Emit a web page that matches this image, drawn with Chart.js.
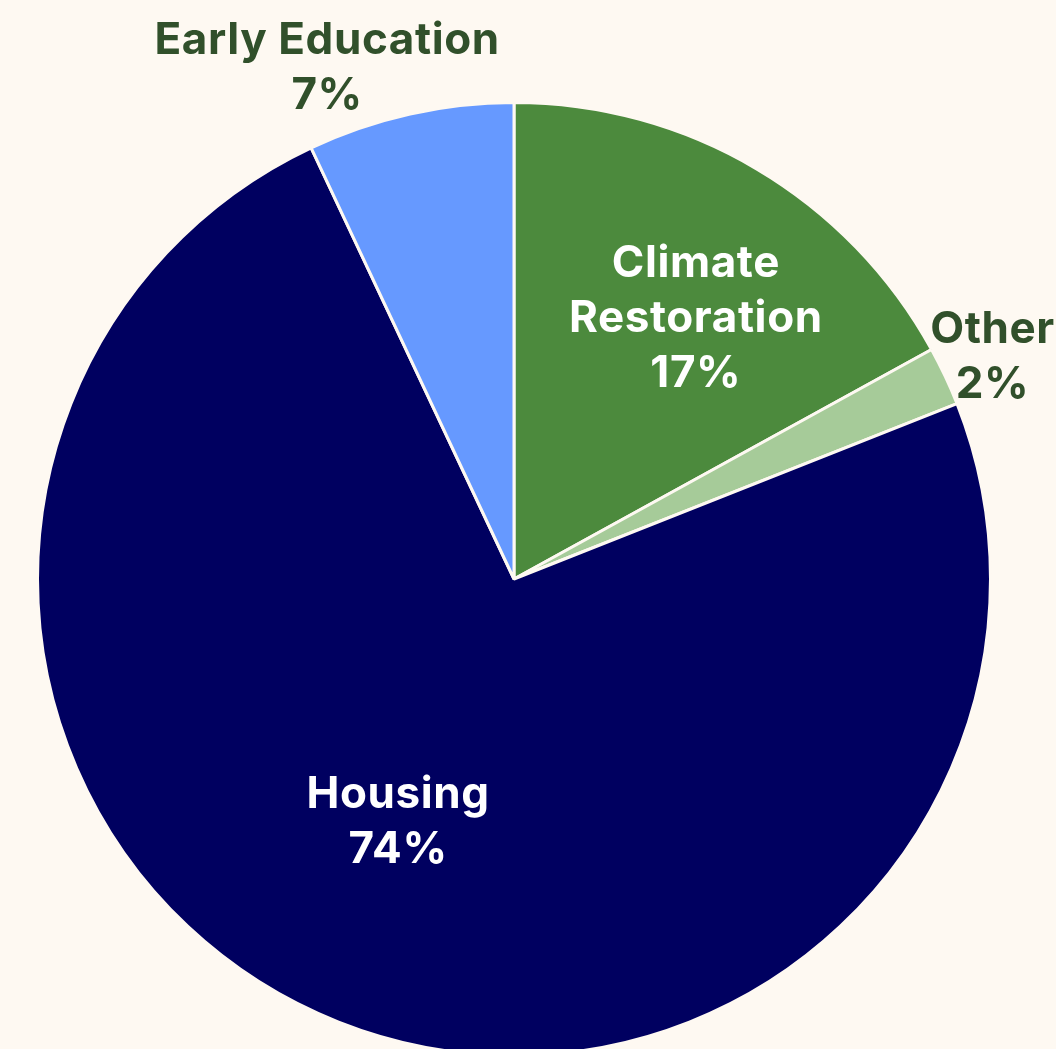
<!DOCTYPE html>
<html>
<head>
<meta charset="utf-8">
<script src="https://cdn.jsdelivr.net/npm/chart.js@4"></script>
<style>
  html, body { margin: 0; padding: 0; background: #fef9f2; overflow: hidden; }
  #wrap { width: 1056px; height: 1120px; }
</style>
</head>
<body>
<div id="wrap"><canvas id="c"></canvas></div>
<script>
// Share of funding by program area, clockwise from 12 o'clock.
const categories = [["Climate", "Restoration"], ["Other"], ["Housing"], ["Early Education"]];
const shares = [17, 2, 74, 7];
const sliceColors = ["#4c8a3d", "#a6cb99", "#000060", "#6699ff"];

const BG = "#fef9f2";
const DARK_GREEN = "#31502b";

// Where each label sits: radius as a fraction of the pie radius, and an
// angle nudge (degrees) from the slice's middle. Labels outside the pie
// use the dark green ink, inside labels are white.
const labelPlacement = [
  { r: 0.667, nudge: 4.3, color: "#ffffff" },
  { r: 1.107, nudge: 0.3, color: DARK_GREEN },
  { r: 0.565, nudge: 3.9, color: "#ffffff" },
  { r: 1.141, nudge: -7.5, color: DARK_GREEN },
];

const sliceLabels = {
  id: "sliceLabels",
  afterDatasetsDraw(chart) {
    const { ctx } = chart;
    const meta = chart.getDatasetMeta(0);
    ctx.save();
    ctx.font = "700 44px Inter, sans-serif";
    ctx.letterSpacing = "0.6px";
    ctx.textAlign = "center";
    ctx.textBaseline = "middle";
    const lineH = 55;
    meta.data.forEach((arc, i) => {
      const p = labelPlacement[i];
      const mid = (arc.startAngle + arc.endAngle) / 2 + (p.nudge * Math.PI) / 180;
      const rad = arc.outerRadius * p.r;
      const x = arc.x + Math.cos(mid) * rad;
      const y = arc.y + Math.sin(mid) * rad;
      const lines = categories[i].concat([shares[i] + "%"]);
      const top = y - ((lines.length - 1) * lineH) / 2;
      ctx.fillStyle = p.color;
      lines.forEach((t, k) => ctx.fillText(t, x, top + k * lineH));
    });
    ctx.restore();
  },
};

new Chart(document.getElementById("c"), {
  type: "pie",
  data: {
    labels: categories.map((l) => l.join(" ")),
    datasets: [
      {
        data: shares,
        backgroundColor: sliceColors,
        borderColor: BG,
        borderWidth: 3,
      },
    ],
  },
  options: {
    responsive: true,
    maintainAspectRatio: false,
    animation: false,
    layout: { padding: { left: 36, top: 101, right: 64, bottom: 63 } },
    plugins: {
      legend: { display: false },
      tooltip: { enabled: false },
    },
  },
  plugins: [sliceLabels],
});
</script>
</body>
</html>
